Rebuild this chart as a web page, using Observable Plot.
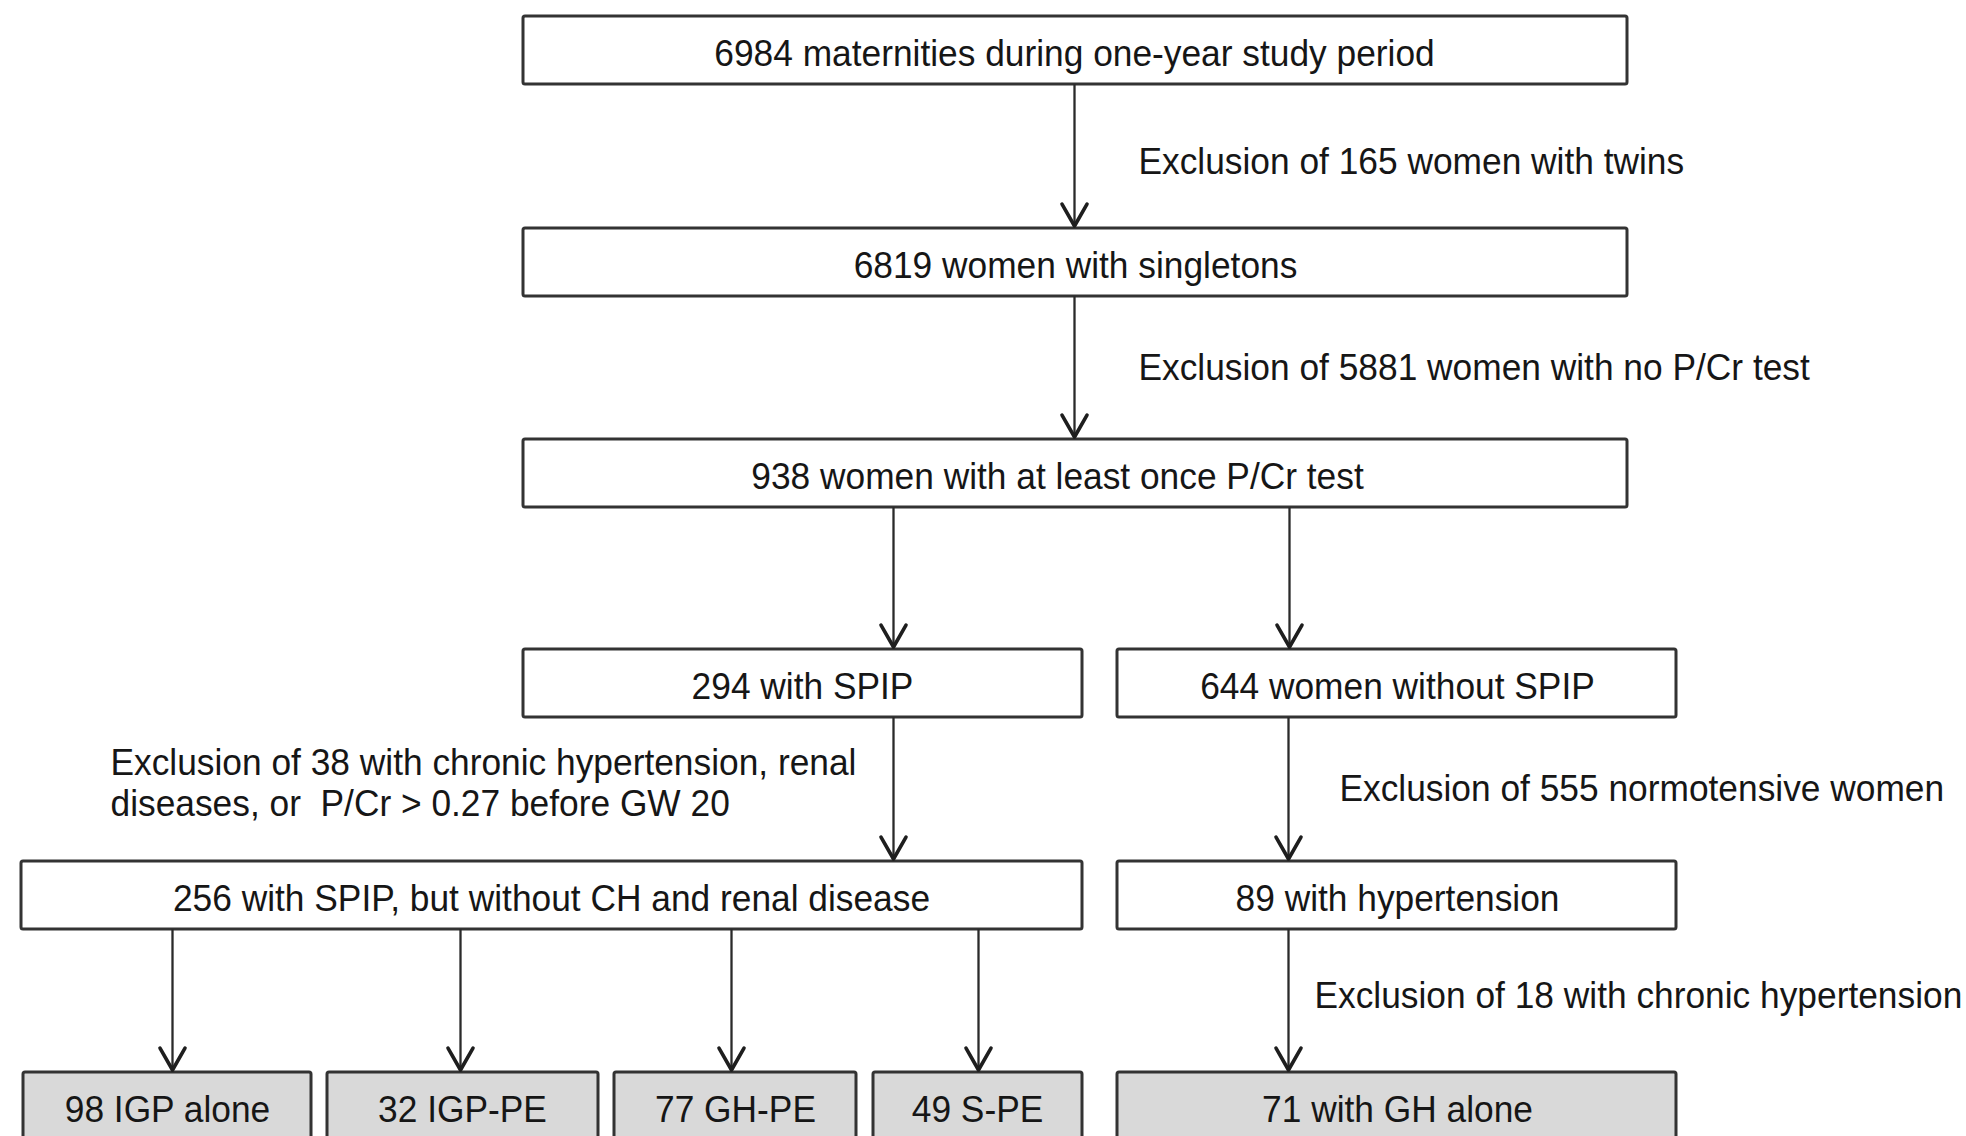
<!DOCTYPE html>
<html>
<head>
<meta charset="utf-8">
<script src="https://cdn.jsdelivr.net/npm/d3@7"></script>
<script src="https://cdn.jsdelivr.net/npm/@observablehq/plot@0.6"></script>
<style>
  html, body { margin: 0; padding: 0; background: #fff; }
  svg text { white-space: pre; }
</style>
</head>
<body>
<div id="chart"></div>
<script>
// ---- data ----
const nodeLabels = [
  "6984 maternities during one-year study period",
  "6819 women with singletons",
  "938 women with at least once P/Cr test",
  "294 with SPIP",
  "644 women without SPIP",
  "256 with SPIP, but without CH and renal disease",
  "89 with hypertension",
  "98 IGP alone",
  "32 IGP-PE",
  "77 GH-PE",
  "49 S-PE",
  "71 with GH alone"
];
const nodeCounts = [6984, 6819, 938, 294, 644, 256, 89, 98, 32, 77, 49, 71];
const finalGroup = [false, false, false, false, false, false, false, true, true, true, true, true];
const edgeFrom = [0, 1, 2, 2, 3, 4, 5, 5, 5, 5, 6];
const edgeTo   = [1, 2, 3, 4, 5, 6, 7, 8, 9, 10, 11];
const exclusionLabels = [
  "Exclusion of 165 women with twins",
  "Exclusion of 5881 women with no P/Cr test",
  "Exclusion of 38 with chronic hypertension, renal\ndiseases, or  P/Cr > 0.27 before GW 20",
  "Exclusion of 555 normotensive women",
  "Exclusion of 18 with chronic hypertension"
];
const exclusionCounts = [165, 5881, 38, 555, 18];

// ---- layout (diagram coordinates) ----
const rowTop = [16, 228, 439, 649, 861, 1072];
const boxH = 68;
const nodeRow = [0, 1, 2, 3, 3, 4, 4, 5, 5, 5, 5, 5];
const nodeX1 = [523, 523, 523, 523, 1117, 21, 1117, 23, 327, 614, 873, 1117];
const nodeX2 = [1627, 1627, 1627, 1082, 1676, 1082, 1676, 311, 598, 856, 1082, 1676];
const textX  = [1074, 1075, 1057, 802, 1397, 551, 1397, 167, 462, 735, 977, 1397];
const edgeX  = [1074, 1074, 893, 1289, 893, 1288, 172, 460, 731, 978, 1288];
const exclX = [1138, 1138, 110, 1339, 1314];
const exclY = [160, 366, 782, 787, 994];

const nodes = nodeLabels.map((label, i) => ({
  label, count: nodeCounts[i], final: finalGroup[i],
  x1: nodeX1[i], x2: nodeX2[i],
  y1: rowTop[nodeRow[i]], y2: rowTop[nodeRow[i]] + boxH,
  tx: textX[i], ty: rowTop[nodeRow[i]] + boxH / 2 + 4
}));
const edges = edgeFrom.map((f, i) => ({
  x: edgeX[i], y1: nodes[f].y2, y2: nodes[edgeTo[i]].y1
}));
const exclusions = exclusionLabels.map((label, i) => ({
  label, count: exclusionCounts[i], x: exclX[i], y: exclY[i]
}));

// open V arrowhead symbol, tip at the symbol's origin, pointing down
const arrowHead = {
  draw(context, size) {
    const r = Math.sqrt(size / Math.PI);
    context.moveTo(-r, -r * 1.75);
    context.lineTo(0, 0);
    context.lineTo(r, -r * 1.75);
  }
};

const font = "Liberation Sans, Arial, Helvetica, sans-serif";

const chart = Plot.plot({
  width: 1966,
  height: 1136,
  margin: 0,
  x: {domain: [0, 1966], axis: null},
  y: {domain: [0, 1136], reverse: true, axis: null},
  marks: [
    Plot.rect(nodes, {
      x1: "x1", x2: "x2", y1: "y1", y2: "y2",
      fill: d => d.final ? "#d9d9d9" : "#ffffff",
      stroke: "#333333", strokeWidth: 3, rx: 2
    }),
    Plot.text(nodes, {
      x: "tx", y: "ty", text: "label",
      fontSize: 37, fontFamily: font, fill: "#161616", textAnchor: "middle"
    }),
    Plot.ruleX(edges, {
      x: "x", y1: "y1", y2: d => d.y2 - 3,
      stroke: "#2a2a2a", strokeWidth: 2.3
    }),
    Plot.dot(edges, {
      x: "x", y: d => d.y2 - 2.5,
      symbol: arrowHead, r: 12.5,
      fill: "none", stroke: "#1e1e1e", strokeWidth: 3.6,
      strokeLinejoin: "round", strokeLinecap: "round"
    }),
    Plot.text(exclusions, {
      x: "x", y: "y", text: "label",
      fontSize: 37, fontFamily: font, fill: "#161616",
      textAnchor: "start", lineAnchor: "middle", lineHeight: 1.1
    })
  ]
});

// slightly condense the glyphs (the source uses a narrow Helvetica-like face)
const isNum = s => s != null && s !== "" && /^-?[\d.]+$/.test(s.trim());
d3.select(chart).selectAll("text").each(function() {
  const xa = this.getAttribute("x");
  const ya = this.getAttribute("y");
  let tx = 0, ty = 0;
  if (isNum(xa)) { tx = +xa; this.removeAttribute("x"); }
  if (isNum(ya)) { ty = +ya; this.removeAttribute("y"); }
  const t = this.getAttribute("transform") || "";
  this.setAttribute("transform", `${t} translate(${tx},${ty}) scale(0.955,1)`);
});

document.getElementById("chart").appendChild(chart);
</script>
</body>
</html>
